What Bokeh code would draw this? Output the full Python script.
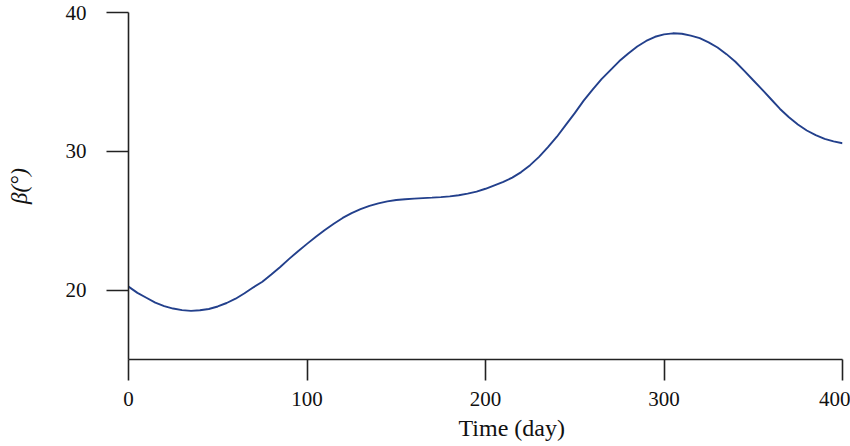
from bokeh.plotting import figure
from bokeh.models import FixedTicker, Range1d, Title
from bokeh.embed import file_html
from bokeh.resources import INLINE

days = [0, 5, 10, 15, 20, 25, 30, 35, 40, 45, 50, 55, 60, 65, 70, 75, 80, 85, 90, 95,
        100, 105, 110, 115, 120, 125, 130, 135, 140, 145, 150, 155, 160, 165, 170, 175,
        180, 185, 190, 195, 200, 205, 210, 215, 220, 225, 230, 235, 240, 245, 250, 255,
        260, 265, 270, 275, 280, 285, 290, 295, 300, 305, 310, 315, 320, 325, 330, 335,
        340, 345, 350, 355, 360, 365, 370, 375, 380, 385, 390, 395, 400]
beta = [20.25, 19.8, 19.45, 19.1, 18.85, 18.67, 18.56, 18.5, 18.55, 18.64, 18.82, 19.07,
        19.38, 19.77, 20.2, 20.6, 21.13, 21.67, 22.25, 22.8, 23.33, 23.85, 24.33, 24.78,
        25.2, 25.55, 25.83, 26.07, 26.25, 26.39, 26.49, 26.55, 26.59, 26.63, 26.66, 26.7,
        26.75, 26.83, 26.95, 27.1, 27.3, 27.55, 27.8, 28.1, 28.5, 29.0, 29.6, 30.3, 31.05,
        31.9, 32.75, 33.65, 34.45, 35.2, 35.85, 36.5, 37.05, 37.55, 37.95, 38.25, 38.42,
        38.5, 38.47, 38.33, 38.15, 37.85, 37.48, 37.0, 36.45, 35.8, 35.12, 34.45, 33.75,
        33.05, 32.45, 31.93, 31.5, 31.17, 30.9, 30.72, 30.58]
x_ticks = [0, 100, 200, 300, 400]
y_ticks = [20, 30, 40]
x_title = "Time (day)"
y_title = "β(°)"

FONT = "Liberation Serif"

p = figure(width=850, height=446, output_backend="svg", toolbar_location=None,
           x_range=Range1d(0, 400), y_range=Range1d(15, 40),
           min_border_left=128, min_border_right=8, min_border_top=12,
           min_border_bottom=87)
p.line(days, beta, line_color="#23408c", line_width=1.9)

p.xgrid.visible = False
p.ygrid.visible = False
p.outline_line_color = None
p.background_fill_color = "white"
p.border_fill_color = "white"

for ax in (p.xaxis[0], p.yaxis[0]):
    ax.axis_line_color = "#222222"
    ax.axis_line_width = 1.6
    ax.major_tick_line_color = "#222222"
    ax.major_tick_line_width = 1.6
    ax.major_tick_in = 0
    ax.minor_tick_line_color = None
    ax.major_label_text_font = FONT
    ax.major_label_text_font_size = "21px"
    ax.major_label_text_color = "#111111"

xa = p.xaxis[0]
xa.ticker = FixedTicker(ticks=x_ticks)
xa.major_tick_out = 21
xa.major_label_standoff = 11

ya = p.yaxis[0]
ya.ticker = FixedTicker(ticks=y_ticks)
ya.major_tick_out = 22
ya.major_label_standoff = 20
ya.axis_label = y_title
ya.axis_label_text_font = FONT
ya.axis_label_text_font_style = "italic"
ya.axis_label_text_font_size = "23px"
ya.axis_label_text_color = "#111111"
ya.axis_label_standoff = 31

p.add_layout(Title(text=x_title, align="left", offset=330, standoff=8,
                   text_font=FONT, text_font_size="24px", text_font_style="normal",
                   text_color="#111111"), "below")

open("out.html", "w").write(file_html(p, INLINE))
